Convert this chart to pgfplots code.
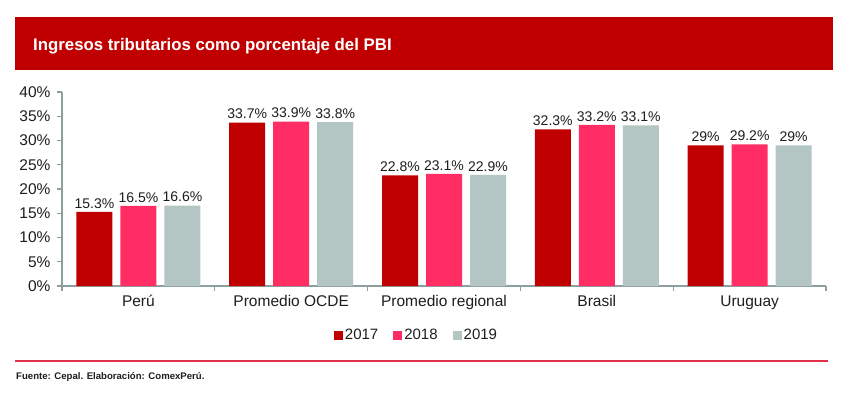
\documentclass[border=0pt]{standalone}
\usepackage{pgfplots}
\pgfplotsset{compat=1.18}
\usepackage{fontspec}
\setmainfont{Liberation Sans}
\definecolor{cRed}{RGB}{192,0,0}
\definecolor{cPink}{RGB}{255,45,100}
\definecolor{cGray}{RGB}{180,198,196}
\definecolor{axisc}{RGB}{140,160,160}
\definecolor{lineRed}{RGB}{224,48,74}
\definecolor{txt}{RGB}{30,30,30}
\begin{document}
\begin{tikzpicture}[x=1pt,y=1pt]
\fill[white] (0,0) rectangle (854,-392);
\fill[cRed] (15,-17) rectangle (833,-70);
\node[anchor=west,text=white,inner sep=0pt,font=\bfseries\fontsize{16.8}{19}\selectfont] at (33,-46) {Ingresos tributarios como porcentaje del PBI};
\draw[lineRed,line width=1.5pt] (15,-361) -- (828,-361);
\node[anchor=base west,inner sep=0pt,text=txt,font=\bfseries\fontsize{9.6}{11}\selectfont] at (16,-379) {Fuente: Cepal. Elaboración: ComexPerú.};
\begin{axis}[at={(62pt,-286pt)},anchor=south west,scale only axis,width=764pt,height=194pt,
 ybar=8pt, bar width=36pt,
 xmin=-0.5,xmax=4.5,ymin=0,ymax=40,
 axis x line=bottom, axis y line=left,
 axis line style={axisc,line width=1.2pt,-},
 /pgf/number format/assume math mode=true,
 xtick={0,...,4},
 xticklabels={Perú,Promedio OCDE,Promedio regional,Brasil,Uruguay},
 major x tick style={draw=none},
 minor xtick={-0.5,0.5,1.5,2.5,3.5,4.5},
 tick align=outside,
 major tick length=5pt, minor tick length=5pt,
 every tick/.style={axisc,line width=1.2pt},
 minor x tick style={axisc,line width=1.2pt},
 ytick={0,5,...,40},
 yticklabel={\pgfmathprintnumber{\tick}\%},
 ticklabel style={text=txt,font=\fontsize{15.5}{17}\selectfont},
 yticklabel style={xshift=-3pt},
 xticklabel style={text height=11pt,text depth=3pt,yshift=-1pt},
 nodes near coords={\pgfmathprintnumber{\pgfplotspointmeta}\%},
 nodes near coords style={text=txt,font=\fontsize{14}{16}\selectfont},
 legend columns=3,
 legend style={at={(0.464,-0.2526)},anchor=center,draw=none,fill=none,
   font=\fontsize{15}{17}\selectfont,text=txt,
   /tikz/every even column/.append style={column sep=13pt}},
 legend image code/.code={\fill[#1,draw=none] (0pt,-4.5pt) rectangle (9pt,4.5pt);},
 clip=false,
]
\addplot[fill=cRed,draw=none] coordinates {(0,15.3)(1,33.7)(2,22.8)(3,32.3)(4,29)};
\addplot[fill=cPink,draw=none] coordinates {(0,16.5)(1,33.9)(2,23.1)(3,33.2)(4,29.2)};
\addplot[fill=cGray,draw=none] coordinates {(0,16.6)(1,33.8)(2,22.9)(3,33.1)(4,29)};
\legend{2017,2018,2019}
\end{axis}
\end{tikzpicture}
\end{document}
